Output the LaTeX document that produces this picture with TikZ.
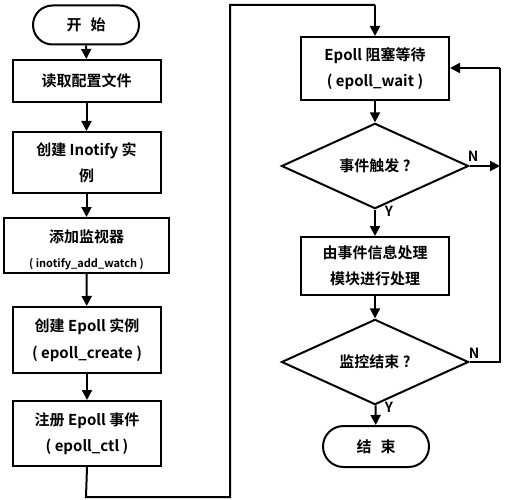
\documentclass[tikz,border=0pt]{standalone}
\usepackage{fontspec}
\setmainfont{Noto Sans CJK SC}[BoldFont=* Bold]
\usetikzlibrary{shapes.geometric,shapes.misc,arrows.meta}
\begin{document}
\begin{tikzpicture}[x=1pt,y=-1pt,
  every node/.style={font=\bfseries\fontsize{15}{26.5}\selectfont, align=center, inner sep=0pt, line width=2pt},
  boxst/.style={draw, rectangle, minimum width=148pt},
  termst/.style={draw, rounded rectangle, minimum width=106pt},
  decst/.style={draw, diamond, minimum width=187pt, minimum height=72pt},
  small/.style={font=\bfseries\fontsize{11}{12}\selectfont},
  lbl/.style={font=\bfseries\fontsize{14}{15}\selectfont},
  conn/.style={line width=2pt, -{Triangle[length=10pt,width=10pt]}},
  plain/.style={line width=2pt}
]
\useasboundingbox[fill=white] (0,0) rectangle (506,500);
% left column
\node[termst, minimum height=39pt] (start) at (86,25) {开\hspace{0.6em}始};
\node[boxst, minimum height=42pt] (b1) at (86.5,81) {读取配置文件};
\node[boxst, minimum height=61pt] (b2) at (86.5,162.5) {创建 Inotify 实\\例};
\node[boxst, minimum width=165pt, minimum height=55pt] (b3) at (86.5,245.5) {};
\node at (86.5,237) {添加监视器};
\node[small] at (86.5,264) {( inotify\_add\_watch )};
\node[boxst, minimum height=66pt] (b4) at (87,340) {创建 Epoll 实例\\( epoll\_create )};
\node[boxst, minimum height=65pt] (b5) at (87,433.5) {注册 Epoll 事件\\( epoll\_ctl )};
% right column
\node[boxst, minimum height=63pt] (w) at (375,68.5) {Epoll 阻塞等待\\( epoll\_wait )};
\node[decst] (d1) at (375,166) {事件触发 ?};
\node[boxst, minimum height=58pt] (p) at (375,266) {由事件信息处理\\模块进行处理};
\node[decst] (d2) at (375,362) {监控结束 ?};
\node[termst, minimum height=41pt] (end) at (376,446.5) {结\hspace{0.6em}束};
% coordinates
\coordinate (c1) at (86,497);
\coordinate (c2) at (230,497);
\coordinate (c3) at (230,5);
\coordinate (c4) at (375,5);
\coordinate (r1) at (500,166);
\coordinate (r2) at (500,362);
\coordinate (r3) at (500,68);
\coordinate (wr) at (w.east |- r3);
% connectors
\draw[conn] (start) -- (b1);
\draw[conn] (b1) -- (b2);
\draw[conn] (b2) -- (b1 |- b3.north);
\draw[conn] (b1 |- b3.south) -- (b4);
\draw[conn] (b4) -- (b5);
\draw[plain] (b5.south) -- (c1) -- (c2) -- (c3) -- (c4);
\draw[conn] (c4) -- (w.north);
\draw[conn] (w) -- (d1);
\draw[conn] (d1) -- (p);
\draw[conn] (p) -- (d2);
\draw[conn] (d2) -- (end);
\draw[conn] (d1.east) -- (r1);
\draw[plain] (d2.east) -- (r2) -- (r3);
\draw[conn] (r3) -- (wr);
% labels
\node[lbl] at (473,156) {N};
\node[lbl] at (474,353) {N};
\node[lbl] at (389,211) {Y};
\node[lbl] at (389,407) {Y};
\end{tikzpicture}
\end{document}
